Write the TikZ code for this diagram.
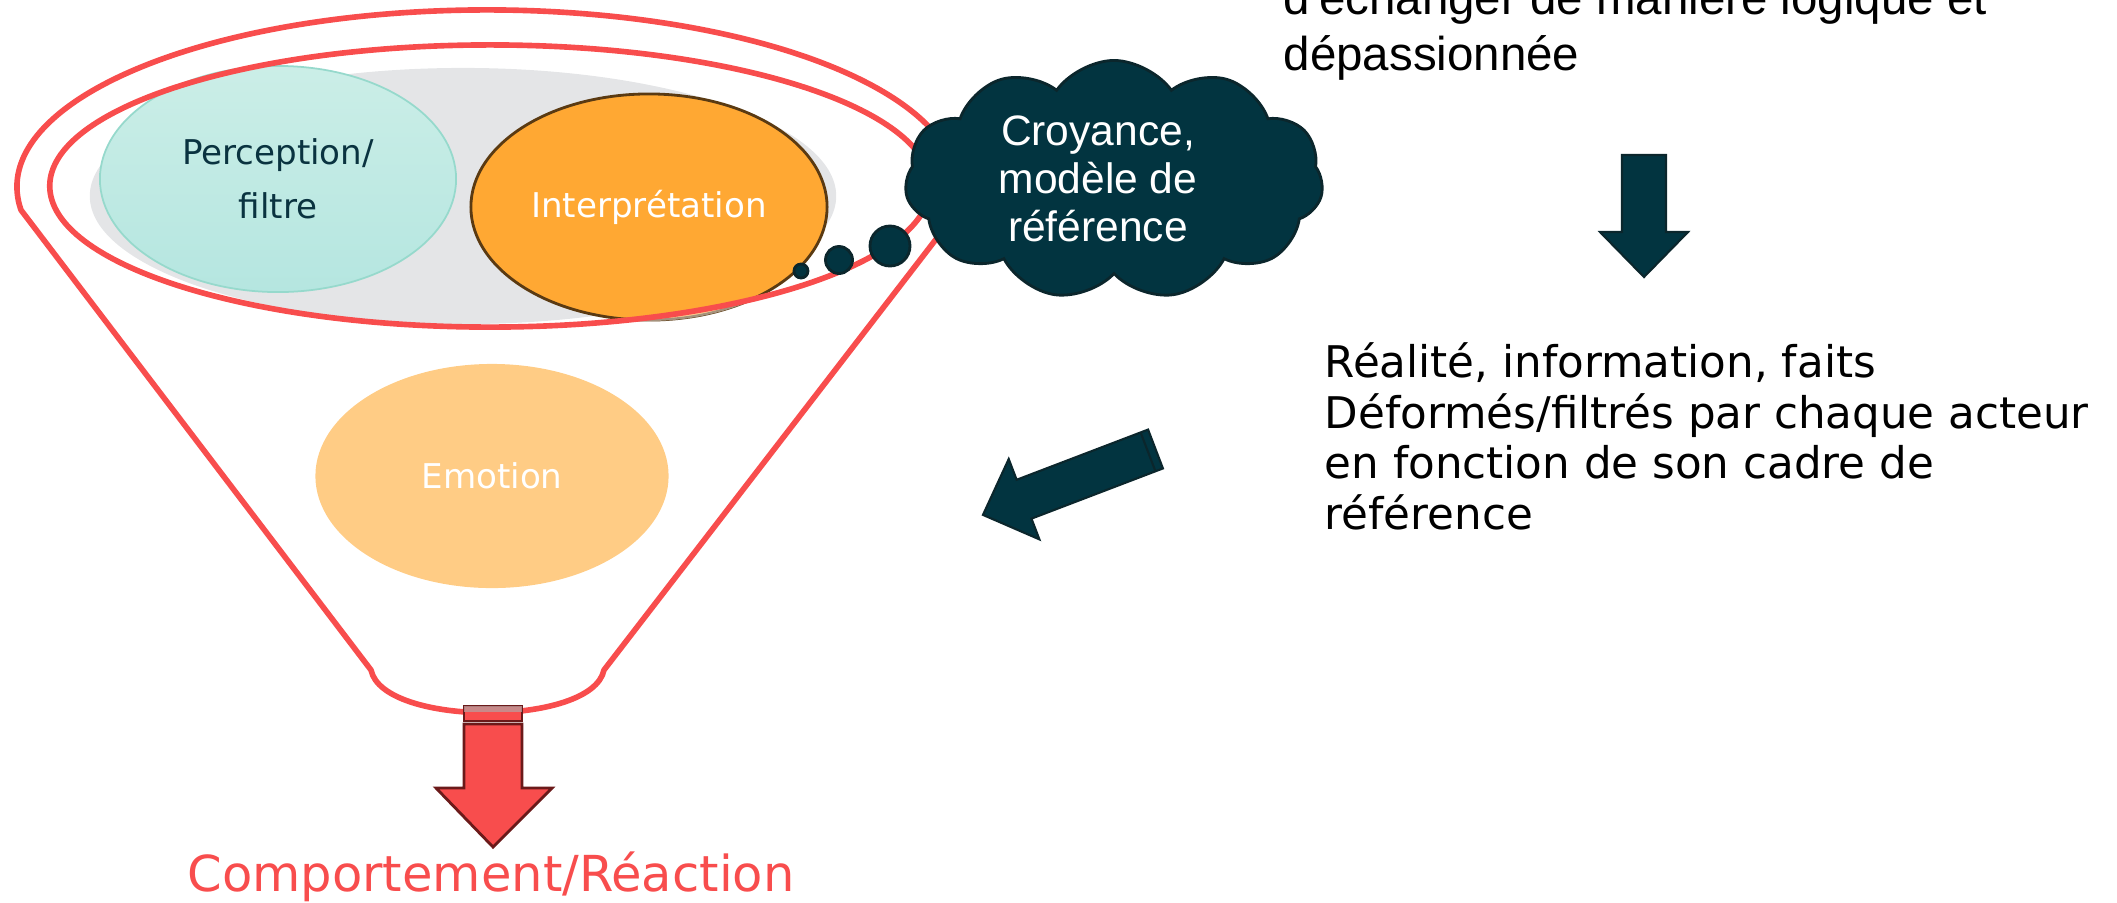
\documentclass[tikz,border=0pt]{standalone}
\usepackage{fontspec}
\usetikzlibrary{shapes.geometric, shapes.symbols}
\newfontfamily\grotesk{DejaVu Sans}
\newfontfamily\helv{Liberation Sans}
\definecolor{rouge}{HTML}{F84D4D}
\definecolor{rougefonce}{HTML}{6B1A1A}
\definecolor{petrole}{HTML}{023440}
\definecolor{petrolefonce}{HTML}{0B262C}
\definecolor{gris}{HTML}{E4E5E7}
\definecolor{turquoisehaut}{HTML}{CBEEE7}
\definecolor{turquoisebas}{HTML}{B5E6E0}
\definecolor{turquoisebord}{HTML}{96D9CC}
\definecolor{orangevif}{HTML}{FFA833}
\definecolor{orangepale}{HTML}{FFCC85}
\definecolor{brun}{HTML}{5A3A12}
\definecolor{encre}{HTML}{0A3340}

\begin{document}
\begin{tikzpicture}[x=0.01cm, y=0.01cm,
        every node/.style={inner sep=0pt},
        cercle/.style={ellipse, inner sep=0pt},
        entonnoir/.style={draw=rouge, line width=1.6pt, line join=round},
        fleche/.style={fill=petrole, draw=petrolefonce, line width=0.6pt},
        rond/.style={circle, fill=petrole, draw=petrolefonce, line width=0.8pt},
        texteellipse/.style={font=\grotesk\fontsize{9.7}{15.4}\selectfont, align=center},
        faits/.style={font=\grotesk\fontsize{12.4}{14.35}\selectfont, align=left, anchor=base west}]
    \useasboundingbox (0,0) rectangle (2117,-902);

    % Ellipses
    \node[cercle, fill=gris, minimum width=7.46cm, minimum height=2.56cm] (fond) at (463,-196) {};
    \node[cercle, top color=turquoisehaut, bottom color=turquoisebas, draw=turquoisebord, line width=0.5pt,
          minimum width=3.56cm, minimum height=2.26cm, texteellipse, text=encre] (perception) at (278,-179) {Perception/\\filtre};
    \node[cercle, fill=orangevif, draw=brun, line width=0.8pt,
          minimum width=3.56cm, minimum height=2.26cm, texteellipse, text=white] (interpretation) at (649,-207) {Interprétation};
    \begin{scope}
        \clip (649,-207) ellipse[x radius=179, y radius=114];
        \fill[white, opacity=0.45, even odd rule] (0,0) rectangle (2117,-902) (490,-186) ellipse[x radius=440, y radius=141];
    \end{scope}
    \node[cercle, fill=orangepale, minimum width=3.53cm, minimum height=2.24cm, texteellipse, text=white] (emotion) at (492,-476) {Emotion};

    % Entonnoir
    \node[cercle, draw=rouge, line width=1.6pt, minimum width=8.8cm, minimum height=2.82cm] (bord) at (490,-186) {};
    \draw[entonnoir] (21,-210) arc[start angle=187.5, end angle=-16.7, x radius=470, y radius=177]
        -- (604,-670) .. controls (592,-727) and (383,-727) .. (371,-670) -- cycle;

    % Fleche rouge
    \filldraw[fill=rouge, draw=rougefonce, line width=0.6pt] (464,-706) rectangle (522,-721);
    \fill[rougefonce!45!white, opacity=0.8] (464,-706) rectangle (522,-712);
    \filldraw[fill=rouge, draw=rougefonce, line width=0.8pt] (464,-724) -- (522,-724) -- (522,-788)
        -- (552,-788) -- (493,-847) -- (436,-788) -- (464,-788) -- cycle;

    % Bulles et nuage
    \node[rond, minimum size=0.14cm] (b1) at (801,-271) {};
    \node[rond, minimum size=0.27cm] (b2) at (839,-260) {};
    \node[rond, minimum size=0.40cm] (b3) at (890,-246) {};
    \node[cloud, cloud puffs=11, cloud puff arc=110, aspect=1.75, fill=petrole, draw=petrolefonce, line width=0.8pt,
          minimum width=4.18cm, minimum height=2.39cm] (croyance) at (1114,-180) {};
    \node[font=\helv\fontsize{12.1}{13.7}\selectfont, text=white, align=center] (croyancetexte) at (1098,-179)
        {Croyance,\\modèle de\\référence};

    % Fleches sombres
    \filldraw[fleche] (1622,-155) -- (1666,-155) -- (1666,-232) -- (1688,-232) -- (1644,-277)
        -- (1600,-232) -- (1622,-232) -- cycle;
    \begin{scope}[shift={(1155.5,-449)}, rotate=200.9]
        \filldraw[fleche] (0,-20.8) -- (140.7,-20.8) -- (140.7,-43) -- (184.7,0) -- (140.7,43)
            -- (140.7,20.8) -- (0,20.8) -- cycle;
        \draw[petrolefonce, line width=0.6pt] (8,-20.8) -- (8,20.8);
    \end{scope}

    % Textes
    \node[font=\helv\fontsize{13.5}{15.65}\selectfont, align=left, anchor=base west] (echange) at (1283,-70)
        {d'échanger de manière logique et\\dépassionnée};
    \node[faits] (realite) at (1324,-529)
        {Réalité, information, faits\\Déformés/filtrés par chaque acteur\\en fonction de son cadre de\\référence};
    \node[font=\grotesk\fontsize{14.1}{17}\selectfont, text=rouge, anchor=base] (reaction) at (491,-891) {Comportement/Réaction};
\end{tikzpicture}
\end{document}
